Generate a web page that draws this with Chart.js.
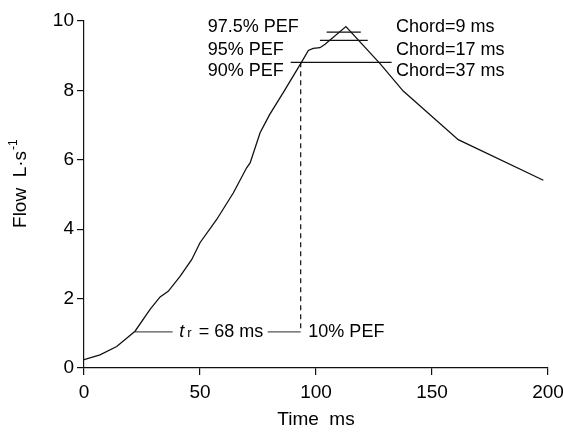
<!DOCTYPE html>
<html>
<head>
<meta charset="utf-8">
<script src="https://cdn.jsdelivr.net/npm/chart.js@4"></script>
<style>
  body { margin: 0; background: #fff; }
  #wrap { width: 563px; height: 435px; }
</style>
</head>
<body>
<div id="wrap"><canvas id="flowChart" width="563" height="435"></canvas></div>
<script>
// flow-time trace (ms, L/s)
const curveTime = [0, 6.9, 14.1, 22.0, 28.4, 32.8, 36.3, 41.4, 46.4, 50.0, 57.2, 64.4, 70.1, 71.6, 75.9, 80.0, 86.0, 93.4, 96.7, 98.8, 101.7, 103.9, 112.9, 127.6, 137.6, 161.3, 198.0];
const curveFlow = [0.24, 0.38, 0.62, 1.06, 1.68, 2.05, 2.21, 2.64, 3.12, 3.61, 4.28, 5.05, 5.77, 5.91, 6.78, 7.30, 7.95, 8.77, 9.15, 9.21, 9.23, 9.33, 9.84, 8.77, 7.98, 6.58, 5.41];

// chord lines at 97.5 / 95 / 90 % of PEF
const pefLevels = [9.68, 9.44, 8.81];
const pefStart = [104.6, 101.7, 89.1];
const pefEnd = [119.3, 122.3, 132.6];
const pefLabels = ["97.5% PEF", "95% PEF", "90% PEF"];
const chordLabels = ["Chord=9 ms", "Chord=17 ms", "Chord=37 ms"];
const labelFlow = [9.82, 9.17, 8.55];

// rise time marker (10% PEF -> 90% PEF)
const riseLevel = 1.04;
const riseStart = 22.0;
const riseEnd = 93.4;
const riseGap = [38.2, 79.2];

const xTicks = [0, 50, 100, 150, 200];
const yTicks = [0, 2, 4, 6, 8, 10];

const FONT = "'Liberation Sans', Arial, Helvetica, sans-serif";
const INK = "#111";

const seg = (x0, x1, y0, y1) => [{ x: x0, y: y0 }, { x: x1, y: y1 }];
const plain = (data, extra) => Object.assign({
  data, borderColor: INK, borderWidth: 1.2, pointRadius: 0, showLine: true, tension: 0
}, extra || {});

const datasets = [
  plain(curveTime.map((t, i) => ({ x: t, y: curveFlow[i] })), { borderWidth: 1.3 }),
  ...pefLevels.map((lv, i) => plain(seg(pefStart[i], pefEnd[i], lv, lv))),
  plain(seg(riseEnd, riseEnd, pefLevels[2], riseLevel), { borderDash: [5, 4] }),
  plain(seg(riseStart, riseGap[0], riseLevel, riseLevel), { borderColor: "#555" }),
  plain(seg(riseGap[1], riseEnd, riseLevel, riseLevel), { borderColor: "#555" }),
];

const annotations = {
  id: "annotations",
  afterDraw(chart) {
    const { ctx, scales: { x, y } } = chart;
    ctx.save();
    ctx.fillStyle = "#000";
    ctx.textBaseline = "middle";
    ctx.textAlign = "left";
    ctx.font = "18px " + FONT;
    pefLabels.forEach((txt, i) => {
      ctx.fillText(txt, x.getPixelForValue(53.3), y.getPixelForValue(labelFlow[i]));
      ctx.fillText(chordLabels[i], x.getPixelForValue(134.5), y.getPixelForValue(labelFlow[i]));
    });

    // t_r = 68 ms
    const ry = y.getPixelForValue(riseLevel);
    let px = x.getPixelForValue(41.1);
    ctx.font = "italic 18px " + FONT;
    ctx.fillText("t", px, ry);
    px += ctx.measureText("t").width + 3;
    ctx.font = "13px " + FONT;
    ctx.fillText("r", px, ry + 2);
    px += ctx.measureText("r").width + 2;
    ctx.font = "18px " + FONT;
    ctx.fillText(" = 68 ms", px, ry);
    ctx.fillText("10% PEF", x.getPixelForValue(96.7), ry);

    // y axis title with superscript
    ctx.translate(21, y.getPixelForValue(5.3));
    ctx.rotate(-Math.PI / 2);
    ctx.font = "19px " + FONT;
    const main = "Flow  L\u00b7s";
    const w1 = ctx.measureText(main).width;
    ctx.font = "12px " + FONT;
    const w2 = ctx.measureText("-1").width;
    const start = -(w1 + w2) / 2;
    ctx.font = "19px " + FONT;
    ctx.fillText(main, start, 0);
    ctx.font = "12px " + FONT;
    ctx.fillText("-1", start + w1 + 1, -7);
    ctx.restore();
  }
};

new Chart(document.getElementById("flowChart"), {
  type: "scatter",
  data: { datasets },
  plugins: [annotations],
  options: {
    responsive: false,
    animation: false,
    layout: { padding: { top: 21, right: 15, left: 0, bottom: 0 } },
    plugins: { legend: { display: false }, tooltip: { enabled: false } },
    scales: {
      x: {
        type: "linear", min: 0, max: 200,
        afterBuildTicks: (s) => { s.ticks = xTicks.map(v => ({ value: v })); },
        afterFit: (s) => { s.height = 67; s.paddingLeft = 0; s.paddingRight = 0; },
        border: { color: INK, width: 1.2 },
        grid: { drawOnChartArea: false, color: INK, tickLength: 7, lineWidth: 1.2 },
        ticks: { color: "#000", padding: 6, font: { family: FONT, size: 19 } },
        title: { display: true, text: "Time  ms", color: "#000", padding: { top: 0, bottom: 4 }, font: { family: FONT, size: 19 } },
      },
      y: {
        type: "linear", min: 0, max: 10,
        afterBuildTicks: (s) => { s.ticks = yTicks.map(v => ({ value: v })); },
        afterFit: (s) => { s.width = 84; s.paddingTop = 0; s.paddingBottom = 0; },
        border: { color: INK, width: 1.2 },
        grid: { drawOnChartArea: false, color: INK, tickLength: 7, lineWidth: 1.2 },
        ticks: { color: "#000", padding: 3, font: { family: FONT, size: 19 } },
      },
    },
  },
});
</script>
</body>
</html>
